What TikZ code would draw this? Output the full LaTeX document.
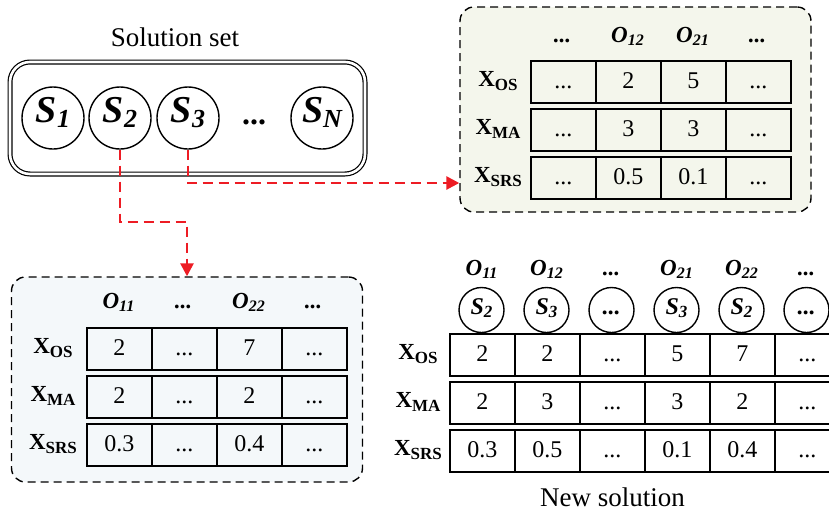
\documentclass[tikz,border=0pt]{standalone}
\usepackage{fontspec}
\setmainfont{Liberation Serif}
\usetikzlibrary{arrows.meta,calc,positioning}

\definecolor{boxgreen}{RGB}{244,246,236}
\definecolor{boxblue}{RGB}{244,248,250}
\definecolor{linkred}{RGB}{237,28,36}

\newcommand\ddd{...}
\newcommand\lowtext[2]{\raisebox{-0.3ex}{\fontsize{#1}{#1}\selectfont #2}}
\newcommand\olab[1]{O\lowtext{8}{#1}}
\newcommand\xlab[1]{X\lowtext{8.5}{#1}}

\tikzset{
  sol/.style={circle, draw, line width=0.7pt, minimum size=31pt, inner sep=0pt,
    text height=1.4ex, text depth=0.45ex, font=\bfseries\itshape\fontsize{19}{19}\selectfont},
  gene/.style={circle, draw, line width=0.7pt, minimum size=22.5pt, inner sep=0pt,
    text height=1.4ex, text depth=0.45ex, font=\bfseries\itshape\fontsize{12}{12}\selectfont},
  cell/.style={draw, line width=0.9pt, minimum width=32.5pt, minimum height=21pt,
    inner sep=0pt, anchor=north west, text height=1.45ex, text depth=0.1ex,
    font=\fontsize{12}{12}\selectfont},
  hdr/.style={inner sep=0pt, text height=1.5ex, text depth=0.35ex,
    font=\bfseries\itshape\fontsize{11.5}{11.5}\selectfont},
  rowlab/.style={inner sep=0pt, font=\bfseries\fontsize{11.5}{11.5}\selectfont},
  group/.style={draw, dash pattern=on 4pt off 2.5pt, line width=0.7pt, rounded corners=7pt,
    minimum width=175.5pt, minimum height=102.5pt},
  link/.style={draw=linkred, line width=1.3pt, dash pattern=on 5pt off 3pt,
    -{Triangle[length=6.5pt,width=6.5pt]}},
  heading/.style={font=\fontsize{13.5}{13.5}\selectfont}
}

\begin{document}
\begin{tikzpicture}[x=0.5pt,y=-0.5pt]
\useasboundingbox (0,0) rectangle (829,515);

% solution set
\node[heading] (settitle) at (175,37) {Solution set};
\node[draw, double, double distance=1.3pt, line width=0.6pt, rounded corners=10pt,
  minimum width=177.5pt, minimum height=56pt] (solset) at (187.5,118) {};
\node[sol] (s1) at (53,118) {S\lowtext{13}{1}};
\node[sol] (s2) at (120,118) {S\lowtext{13}{2}};
\node[sol] (s3) at (188,118) {S\lowtext{13}{3}};
\node[inner sep=0pt, text height=1.4ex, text depth=0.45ex,
  font=\bfseries\fontsize{16}{16}\selectfont] (sdots) at (254,120) {\ddd};
\node[sol] (sn) at (322,118) {S\lowtext{13}{N}};

% top right: solution S3
\node[group, fill=boxgreen] (trbox) at (635.5,109.5) {};
\foreach \h [count=\c] in {\ddd,\olab{12},\olab{21},\ddd}
  \node[hdr] (tr-h\c) at (497.5+65*\c,37) {\h};
\foreach \lab/\vals [count=\r] in {OS/{\ddd,2,5,\ddd},MA/{\ddd,3,3,\ddd},SRS/{\ddd,0.5,0.1,\ddd}} {
  \node[rowlab] (tr-lab\r) at (498,33+48*\r) {\xlab{\lab}};
  \foreach \v [count=\c] in \vals
    \node[cell] (tr-\r-\c) at (465+65*\c,12+48*\r) {\v};
}

% bottom left: solution S2
\node[group, fill=boxblue] (blbox) at (187,379.5) {};
\foreach \h [count=\c] in {\olab{11},\ddd,\olab{22},\ddd}
  \node[hdr] (bl-h\c) at (53.5+65*\c,303) {\h};
\foreach \lab/\vals [count=\r] in {OS/{2,\ddd,7,\ddd},MA/{2,\ddd,2,\ddd},SRS/{0.3,\ddd,0.4,\ddd}} {
  \node[rowlab] (bl-lab\r) at (53,300+48*\r) {\xlab{\lab}};
  \foreach \v [count=\c] in \vals
    \node[cell] (bl-\r-\c) at (21+65*\c,279+48*\r) {\v};
}

% new solution
\foreach \h/\s [count=\c] in {\olab{11}/2,\olab{12}/3,\ddd/,\olab{21}/3,\olab{22}/2,\ddd/} {
  \node[hdr] (br-h\c) at (416.5+65*\c,270) {\h};
  \node[gene] (g\c) at (416.5+65*\c,310) {\ifx\s\empty\ddd\else S\lowtext{8.5}{\s}\fi};
}
\foreach \lab/\vals [count=\r] in {OS/{2,2,\ddd,5,7,\ddd},MA/{2,3,\ddd,3,2,\ddd},SRS/{0.3,0.5,\ddd,0.1,0.4,\ddd}} {
  \node[rowlab] (br-lab\r) at (418,306+48*\r) {\xlab{\lab}};
  \foreach \v [count=\c] in \vals
    \node[cell] (br-\r-\c) at (384+65*\c,285+48*\r) {\v};
}
\node[heading] (newtitle) at (612.5,497) {New solution};

% links
\coordinate (bend1) at (0,222);
\coordinate (bend2) at (0,183);
\draw[link] (s2.south) -- (s2.south |- bend1) -| (blbox.north);
\draw[link] (s3.south) -- (s3.south |- bend2) -- (trbox.west |- bend2);
\end{tikzpicture}
\end{document}
